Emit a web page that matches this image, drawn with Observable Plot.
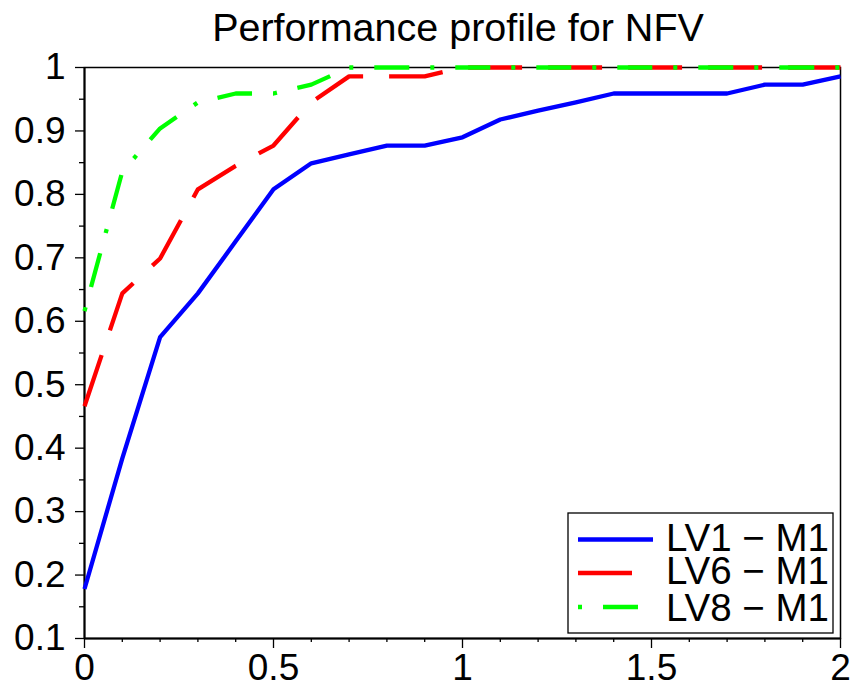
<!DOCTYPE html>
<html>
<head>
<meta charset="utf-8">
<script src="https://cdn.jsdelivr.net/npm/d3@7"></script>
<script src="https://cdn.jsdelivr.net/npm/@observablehq/plot@0.6"></script>
<style>
  html, body { margin: 0; padding: 0; background: white; }
  #chart { position: relative; width: 853px; height: 685px; }
</style>
</head>
<body>
<div id="chart"></div>
<script>
const title = "Performance profile for NFV";
const tau = [0, 0.1, 0.2, 0.3, 0.4, 0.5, 0.6, 0.7, 0.8, 0.9, 1.0, 1.1, 1.2, 1.3, 1.4, 1.5, 1.6, 1.7, 1.8, 1.9, 2.0];
const lv1 = [0.178, 0.384, 0.575, 0.644, 0.726, 0.808, 0.849, 0.863, 0.877, 0.877, 0.890, 0.918, 0.932, 0.945, 0.959, 0.959, 0.959, 0.959, 0.973, 0.973, 0.986];
const lv6 = [0.466, 0.644, 0.699, 0.808, 0.845, 0.877, 0.945, 0.986, 0.986, 0.986, 1, 1, 1, 1, 1, 1, 1, 1, 1, 1, 1];
const lv8 = [0.616, 0.836, 0.904, 0.945, 0.959, 0.959, 0.973, 1, 1, 1, 1, 1, 1, 1, 1, 1, 1, 1, 1, 1, 1];
const seriesNames = ["LV1 \u2212 M1", "LV6 \u2212 M1", "LV8 \u2212 M1"];
const seriesColors = ["#0000ff", "#ff0000", "#00ff00"];
const seriesDash = [null, "54,26", "4,21,35,21"];
const xTicks = [0, 0.5, 1, 1.5, 2];
const xTickLabels = ["0", "0.5", "1", "1.5", "2"];
const xMinor = [0.1, 0.2, 0.3, 0.4, 0.6, 0.7, 0.8, 0.9, 1.1, 1.2, 1.3, 1.4, 1.6, 1.7, 1.8, 1.9];
const yTicks = [0.1, 0.2, 0.3, 0.4, 0.5, 0.6, 0.7, 0.8, 0.9, 1];
const yTickLabels = ["0.1", "0.2", "0.3", "0.4", "0.5", "0.6", "0.7", "0.8", "0.9", "1"];
const yMinor = [0.15, 0.25, 0.35, 0.45, 0.55, 0.65, 0.75, 0.85, 0.95];

const allSeries = [lv1, lv6, lv8];
const rows = [];
allSeries.forEach((vals, s) => vals.forEach((v, i) => rows.push({series: seriesNames[s], idx: s, x: tau[i], y: v})));

const font = "'Liberation Sans', Arial, Helvetica, sans-serif";
const fs = 37;

const lineMarks = allSeries.map((vals, s) => Plot.line(rows.filter(r => r.idx === s), {
  x: "x", y: "y", stroke: seriesColors[s], strokeWidth: 4.3,
  strokeDasharray: seriesDash[s] || undefined, strokeLinecap: "butt", strokeLinejoin: "round"
}));

const plot = Plot.plot({
  width: 853,
  height: 685,
  marginLeft: 84,
  marginRight: 13,
  marginTop: 67,
  marginBottom: 47,
  style: {fontFamily: font, fontSize: fs + "px", background: "white", color: "black", overflow: "visible"},
  x: {domain: [0, 2], label: null},
  y: {domain: [0.1, 1], label: null},
  marks: [
    Plot.axisX({ticks: xMinor, tickSize: 4, text: null, strokeWidth: 1.3}),
    Plot.axisX({ticks: xTicks, tickSize: 10, tickPadding: 5, tickFormat: d => xTickLabels[xTicks.indexOf(d)], fontSize: fs, strokeWidth: 1.3}),
    Plot.axisY({ticks: yMinor, tickSize: 5, text: null, strokeWidth: 1.3}),
    Plot.axisY({ticks: yTicks, tickSize: 9, tickPadding: 10, tickFormat: d => yTickLabels[yTicks.findIndex(t => Math.abs(t - d) < 1e-9)], fontSize: fs, strokeWidth: 1.3}),
    Plot.frame({strokeWidth: 1.5}),
    Plot.ruleX([0], {strokeWidth: 2}),
    Plot.ruleY([0.1], {strokeWidth: 2}),
    ...lineMarks
  ]
});

document.getElementById("chart").appendChild(plot);

// Title and legend added to the SVG
const svg = d3.select(plot);
svg.append("text")
  .attr("x", 458).attr("y", 41)
  .attr("text-anchor", "middle")
  .style("font-family", font).style("font-size", "39.5px")
  .attr("fill", "black")
  .text(title);

const lg = svg.append("g").attr("transform", "translate(568,513)");
lg.append("rect").attr("x", 0).attr("y", 0).attr("width", 265).attr("height", 120)
  .attr("fill", "white").attr("stroke", "black").attr("stroke-width", 1.3);
const rowLineY = [26.5, 60, 94];
const rowBase = [37.5, 70.8, 107.5];
seriesNames.forEach((name, i) => {
  lg.append("line").attr("x1", 10).attr("x2", 85).attr("y1", rowLineY[i]).attr("y2", rowLineY[i])
    .attr("stroke", seriesColors[i]).attr("stroke-width", 4.3)
    .attr("stroke-dasharray", seriesDash[i] || null);
  lg.append("text").attr("x", 98).attr("y", rowBase[i])
    .attr("text-anchor", "start")
    .style("font-family", font).style("font-size", "38.5px").attr("fill", "black")
    .text(name);
});
</script>
</body>
</html>
